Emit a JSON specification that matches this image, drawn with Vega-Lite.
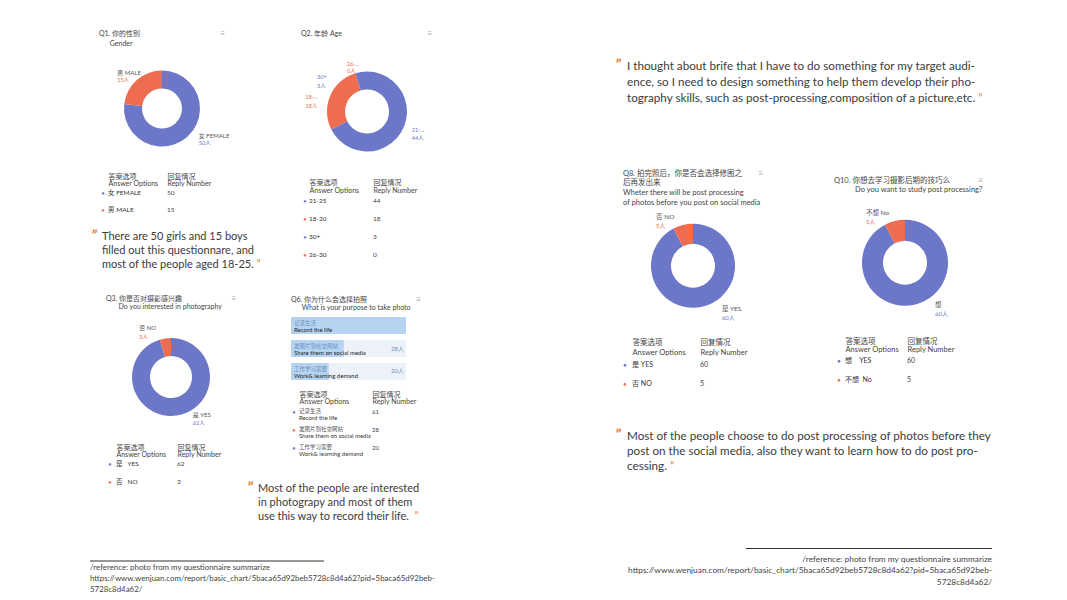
{
"$schema":"https://vega.github.io/schema/vega-lite/v6.json",
"background":"white",
"padding":{"left":89,"top":29.5,"right":5,"bottom":5},
"config":{
 "view":{"stroke":null},
 "font":"Lato, 'Noto Sans CJK SC', sans-serif",
 "title":{"anchor":"start","frame":"group","baseline":"bottom","fontWeight":"normal","color":"#444","fontSize":7,"font":"Lato, 'Noto Sans CJK SC', sans-serif"}
},
"datasets":{
 "q1":[{"order":1,"label":"女 FEMALE","short":"女 FEMALE","n":50,"nl":"50人"},{"order":2,"label":"男 MALE","short":"男 MALE","n":15,"nl":"15人"}],
 "q2":[{"order":1,"label":"21-25","short":"21-...","n":44,"nl":"44人"},{"order":2,"label":"18-20","short":"18-...","n":18,"nl":"18人"},{"order":3,"label":"30+","short":"30+","n":3,"nl":"3人"},{"order":4,"label":"26-30","short":"26-...","n":0,"nl":"0人"}],
 "q3":[{"order":1,"label":"是\u00a0\u00a0\u00a0YES","short":"是 YES","n":62,"nl":"62人"},{"order":2,"label":"否\u00a0\u00a0\u00a0NO","short":"否 NO","n":3,"nl":"3人"}],
 "q6":[{"order":1,"cn":"记录生活","en":"Record the life","n":61,"nl":"61人"},{"order":2,"cn":"发图片到社交网站","en":"Share them on social media","n":28,"nl":"28人"},{"order":3,"cn":"工作学习需要","en":"Work& learning demand","n":20,"nl":"20人"}],
 "q8":[{"order":1,"label":"是 YES","short":"是 YES","n":60,"nl":"60人"},{"order":2,"label":"否 NO","short":"否 NO","n":5,"nl":"5人"}],
 "q10":[{"order":1,"label":"想\u00a0\u00a0\u00a0\u00a0YES","short":"想","n":60,"nl":"60人"},{"order":2,"label":"不想\u00a0\u00a0No","short":"不想 No","n":5,"nl":"5人"}],
 "t1":[{"line":1,"text":"There are 50 girls and 15 boys"},{"line":2,"text":"filled out this questionnare, and"},{"line":3,"text":"most of the people aged 18-25.\u00a0\u201d"}],
 "t2":[{"line":1,"text":"Most of the people are interested"},{"line":2,"text":"in photograpy and most of them"},{"line":3,"text":"use this way to record their life.\u00a0\u00a0\u201d"}],
 "t3":[{"line":1,"text":"I thought about brife that I have to do something for my target audi-"},{"line":2,"text":"ence, so I need to design something to help them develop their pho-"},{"line":3,"text":"tography skills, such as post-processing,composition of a picture,etc.\u00a0\u201d"}],
 "t4":[{"line":1,"text":"Most of the people choose to do post processing of photos before they"},{"line":2,"text":"post on the social media, also they want to learn how to do post pro-"},{"line":3,"text":"cessing.\u00a0\u201d"}],
 "rl":[{"line":1,"text":"/reference: photo from my questionnaire summarize"},{"line":2,"text":"https://www.wenjuan.com/report/basic_chart/5baca65d92beb5728c8d4a62?pid=5baca65d92beb-"},{"line":3,"text":"5728c8d4a62/"}],
 "rr":[{"line":1,"text":"/reference: photo from my questionnaire summarize"},{"line":2,"text":"https://www.wenjuan.com/report/basic_chart/5baca65d92beb5728c8d4a62?pid=5baca65d92beb-"},{"line":3,"text":"5728c8d4a62/"}]
},
"spacing":179,
"hconcat":[
 {"spacing":14.5,"vconcat":[
  {"spacing":40,"hconcat":[
   {"spacing":4.5,"vconcat":[
    {"spacing":4.5,
     "title":{"text":"≡","anchor":"end","frame":"bounds","fontSize":8,"color":"#aaaaaa","offset":0,"dy":8,"dx":-9},
     "vconcat":[
     {"width":144,"height":118,
      "title":{"text":["Q1. 你的性别","\u200b\u00a0\u00a0\u00a0\u00a0\u00a0\u00a0Gender"],"offset":2.5,"dx":9,"lineHeight":10},
      "data":{"name":"q1"},
      "encoding":{"theta":{"field":"n","type":"quantitative","stack":true},"order":{"field":"order","type":"quantitative"},
        "color":{"field":"order","type":"nominal","scale":{"domain":[1,2],"range":["#6d77c7","#ee6c4f"]},"legend":null}},
      "layer":[
       {"mark":{"type":"arc","innerRadius":20,"outerRadius":38}},
       {"mark":{"type":"text","radius":54,"align":"left","fontSize":6,"dx":{"expr":"datum.order == 1 ? 1 : -9"},"dy":{"expr":"datum.order == 1 ? -13.4 : 5.4"}},"encoding":{"text":{"field":"short"},"color":{"value":"#555"}}},
       {"mark":{"type":"text","radius":54,"align":"left","fontSize":5.5,"dx":{"expr":"datum.order == 1 ? 1 : -9"},"dy":{"expr":"datum.order == 1 ? -6.4 : 12.4"}},"encoding":{"text":{"field":"nl"}}}
      ]},
     {"width":95,"height":34,"data":{"name":"q1"},
      "encoding":{"y":{"field":"order","type":"ordinal","axis":null}},
      "layer":[
       {"mark":{"type":"text","text":"●","dx":-5,"fontSize":5},
        "encoding":{"x":{"datum":"label","type":"nominal","scale":{"type":"point","domain":["label","count"],"padding":0.305},
          "axis":{"orient":"top","title":null,"domain":false,"ticks":false,"tickSize":0,"grid":false,"labelAngle":0,"labelAlign":"left","labelBaseline":"bottom","labelFontSize":7,"labelColor":"#444","labelLineHeight":7,"labelPadding":5,"labelOverlap":false,"labelBound":false,"labelExpr":"datum.value == 'label' ? ['答案选项', 'Answer Options'] : ['回复情况', 'Reply Number']"}},
         "color":{"field":"order","type":"nominal","scale":{"domain":[1,2],"range":["#6d77c7","#ee6c4f"]},"legend":null}}},
       {"mark":{"type":"text","align":"left","fontSize":6.5,"color":"#333"},"encoding":{"x":{"datum":"label","type":"nominal"},"text":{"field":"label"}}},
       {"mark":{"type":"text","align":"left","fontSize":6.5,"color":"#444"},"encoding":{"x":{"datum":"count","type":"nominal"},"text":{"field":"n"}}}
      ]}
    ]},
    {"width":150,"height":56,"data":{"name":"t1"},
     "encoding":{"y":{"field":"line","type":"ordinal","axis":null,"scale":{"type":"point","padding":1}},
       "x":{"datum":0,"type":"quantitative","scale":{"domain":[0,1],"nice":false,"zero":false},"axis":null}},
     "layer":[
      {"transform":[{"filter":"datum.line == 1"}],"mark":{"type":"text","text":"\u201d","align":"left","dx":1,"dy":-1,"fontSize":16,"fontWeight":"bold","fontStyle":"italic","color":"#e5833b"}},
      {"transform":[{"filter":"datum.line == 3"}],"mark":{"type":"text","align":"left","dx":12,"fontSize":11,
        "color":{"gradient":"linear","stops":[{"offset":0,"color":"#3c3c3c"},{"offset":0.965,"color":"#3c3c3c"},{"offset":0.966,"color":"#e5833b"},{"offset":1,"color":"#e5833b"}]}},"encoding":{"text":{"field":"text"}}},
      {"transform":[{"filter":"datum.line != 3"}],"mark":{"type":"text","align":"left","dx":12,"fontSize":11,"color":"#3c3c3c"},"encoding":{"text":{"field":"text"}}}
     ]}
   ]},
   {"spacing":4.5,
    "title":{"text":"≡","anchor":"end","frame":"bounds","fontSize":8,"color":"#aaaaaa","offset":0,"dy":8,"dx":-1},
    "vconcat":[
    {"width":132,"height":124,
     "title":{"text":"Q2. 年龄 Age","offset":12.5},
     "data":{"name":"q2"},
     "encoding":{"theta":{"field":"n","type":"quantitative","stack":true},"order":{"field":"order","type":"quantitative"},
       "color":{"field":"order","type":"nominal","scale":{"domain":[1,2,3,4],"range":["#6d77c7","#ee6c4f","#f5b963","#8ccd63"]},"legend":null}},
     "layer":[
      {"mark":{"type":"arc","innerRadius":22,"outerRadius":40}},
      {"mark":{"type":"text","radius":55,"align":"left","fontSize":5.5,"dx":{"expr":"[-2,-11,-42,-20][datum.order-1]"},"dy":{"expr":"[-11,7,20,7][datum.order-1]"}},"encoding":{"text":{"field":"short"}}},
      {"mark":{"type":"text","radius":55,"align":"left","fontSize":5.5,"dx":{"expr":"[-2,-11,-42,-20][datum.order-1]"},"dy":{"expr":"[-3,16,29,14][datum.order-1]"}},"encoding":{"text":{"field":"nl"}}}
     ]},
    {"width":80,"height":72,"data":{"name":"q2"},
     "encoding":{"y":{"field":"order","type":"ordinal","axis":null}},
     "layer":[
      {"mark":{"type":"text","text":"●","dx":-4,"fontSize":5},
       "encoding":{"x":{"datum":"label","type":"nominal","scale":{"type":"point","domain":["label","count"],"padding":0.125},
         "axis":{"orient":"top","title":null,"domain":false,"ticks":false,"tickSize":0,"grid":false,"labelAngle":0,"labelAlign":"left","labelBaseline":"bottom","labelFontSize":7,"labelColor":"#444","labelLineHeight":8,"labelPadding":6.5,"labelOverlap":false,"labelBound":false,"labelExpr":"datum.value == 'label' ? ['答案选项', 'Answer Options'] : ['回复情况', 'Reply Number']"}},
        "color":{"field":"order","type":"nominal","scale":{"domain":[1,2,3,4],"range":["#6d77c7","#ee6c4f","#f5b963","#8ccd63"]},"legend":null}}},
      {"mark":{"type":"text","align":"left","fontSize":6.5,"color":"#333"},"encoding":{"x":{"datum":"label","type":"nominal"},"text":{"field":"label"}}},
      {"mark":{"type":"text","align":"left","fontSize":6.5,"color":"#444"},"encoding":{"x":{"datum":"count","type":"nominal"},"text":{"field":"n"}}}
     ]}
   ]}
  ]},
  {"spacing":20.5,"vconcat":[
   {"spacing":-5,"hconcat":[
    {"spacing":0.5,
     "title":{"text":"≡","anchor":"end","frame":"bounds","fontSize":8,"color":"#aaaaaa","offset":0,"dy":8,"dx":-16},
     "vconcat":[
     {"width":162,"height":130,
      "title":{"text":["Q3. 你是否对摄影感兴趣","\u200b\u00a0\u00a0\u00a0\u00a0\u00a0\u00a0\u00a0Do you interested in photography"],"offset":2.5,"dx":16,"lineHeight":8},
      "data":{"name":"q3"},
      "encoding":{"theta":{"field":"n","type":"quantitative","stack":true},"order":{"field":"order","type":"quantitative"},
        "color":{"field":"order","type":"nominal","scale":{"domain":[1,2],"range":["#6d77c7","#ee6c4f"]},"legend":null}},
      "layer":[
       {"mark":{"type":"arc","innerRadius":21,"outerRadius":39}},
       {"mark":{"type":"text","radius":54,"align":"left","fontSize":6,"dx":{"expr":"datum.order == 1 ? 14 : -24"},"dy":{"expr":"datum.order == 1 ? -15.4 : 4.4"}},"encoding":{"text":{"field":"short"},"color":{"value":"#555"}}},
       {"mark":{"type":"text","radius":54,"align":"left","fontSize":5.5,"dx":{"expr":"datum.order == 1 ? 14 : -24"},"dy":{"expr":"datum.order == 1 ? -7.4 : 13.4"}},"encoding":{"text":{"field":"nl"}}}
      ]},
     {"width":113,"height":36,"data":{"name":"q3"},
      "encoding":{"y":{"field":"order","type":"ordinal","axis":null}},
      "layer":[
       {"mark":{"type":"text","text":"●","dx":-6,"fontSize":5},
        "encoding":{"x":{"datum":"label","type":"nominal","scale":{"type":"point","domain":["label","count"],"padding":0.426},
          "axis":{"orient":"top","title":null,"domain":false,"ticks":false,"tickSize":0,"grid":false,"labelAngle":0,"labelAlign":"left","labelBaseline":"bottom","labelFontSize":7,"labelColor":"#444","labelLineHeight":7,"labelPadding":4.5,"labelOverlap":false,"labelBound":false,"labelExpr":"datum.value == 'label' ? ['答案选项', 'Answer Options'] : ['回复情况', 'Reply Number']"}},
         "color":{"field":"order","type":"nominal","scale":{"domain":[1,2],"range":["#6d77c7","#ee6c4f"]},"legend":null}}},
       {"mark":{"type":"text","align":"left","fontSize":6.5,"color":"#333"},"encoding":{"x":{"datum":"label","type":"nominal"},"text":{"field":"label"}}},
       {"mark":{"type":"text","align":"left","fontSize":6.5,"color":"#444"},"encoding":{"x":{"datum":"count","type":"nominal"},"text":{"field":"n"}}}
      ]}
    ]},
    {"spacing":15,"vconcat":[
     {"spacing":4.5,
      "title":{"text":"≡","anchor":"end","frame":"bounds","fontSize":8,"color":"#aaaaaa","offset":0,"dy":8,"dx":5},
      "vconcat":[
      {"width":115,"height":73,
       "title":{"text":["Q6. 你为什么会选择拍照","\u200b\u00a0\u00a0\u00a0\u00a0\u00a0\u00a0What is your purpose to take photo"],"offset":1.5,"lineHeight":8},
       "data":{"name":"q6"},
       "encoding":{"y":{"field":"order","type":"ordinal","axis":null,"scale":{"paddingInner":0.26,"paddingOuter":0.217}}},
       "layer":[
        {"mark":{"type":"bar","color":"#edf2f8"},"encoding":{"x":{"datum":61,"type":"quantitative","scale":{"domain":[0,61],"nice":false,"zero":true},"axis":null}}},
        {"mark":{"type":"bar","color":"#b5d4f1"},"encoding":{"x":{"field":"n","type":"quantitative"}}},
        {"mark":{"type":"text","align":"left","dx":3,"dy":-2.5,"fontSize":5.5,"color":"#6f8fbf"},"encoding":{"x":{"datum":0,"type":"quantitative"},"text":{"field":"cn"}}},
        {"mark":{"type":"text","align":"left","dx":3,"dy":4.5,"fontSize":6,"color":"#222"},"encoding":{"x":{"datum":0,"type":"quantitative"},"text":{"field":"en"}}},
        {"transform":[{"filter":"datum.order > 1"}],"mark":{"type":"text","align":"right","dx":-2,"fontSize":6,"color":"#6f8fbf"},"encoding":{"x":{"datum":61,"type":"quantitative"},"text":{"field":"nl"}}}
       ]},
      {"width":89,"height":54,"data":{"name":"q6"},
       "encoding":{"y":{"field":"order","type":"ordinal","axis":null}},
       "layer":[
        {"mark":{"type":"text","text":"●","dx":-5,"dy":-3,"fontSize":5},
         "encoding":{"x":{"datum":"label","type":"nominal","scale":{"type":"point","domain":["label","count"],"padding":0.1096},
           "axis":{"orient":"top","title":null,"domain":false,"ticks":false,"tickSize":0,"grid":false,"labelAngle":0,"labelAlign":"left","labelBaseline":"bottom","labelFontSize":7,"labelColor":"#444","labelLineHeight":7,"labelPadding":8.5,"labelOverlap":false,"labelBound":false,"labelExpr":"datum.value == 'label' ? ['答案选项', 'Answer Options'] : ['回复情况', 'Reply Number']"}},
          "color":{"field":"order","type":"nominal","scale":{"domain":[1,2,3],"range":["#6d77c7","#ee6c4f","#f5b963"]},"legend":null}}},
        {"mark":{"type":"text","align":"left","dy":-4,"fontSize":5.5,"color":"#555"},"encoding":{"x":{"datum":"label","type":"nominal"},"text":{"field":"cn"}}},
        {"mark":{"type":"text","align":"left","dy":3.5,"fontSize":6,"color":"#333"},"encoding":{"x":{"datum":"label","type":"nominal"},"text":{"field":"en"}}},
        {"mark":{"type":"text","align":"left","dy":-3,"fontSize":6,"color":"#444"},"encoding":{"x":{"datum":"count","type":"nominal"},"text":{"field":"n"}}}
       ]}
     ]},
     {"width":130,"height":56,"data":{"name":"t2"},
      "encoding":{"y":{"field":"line","type":"ordinal","axis":null,"scale":{"type":"point","padding":1}},
        "x":{"datum":0,"type":"quantitative","scale":{"domain":[0,1],"nice":false,"zero":false},"axis":null}},
      "layer":[
       {"transform":[{"filter":"datum.line == 1"}],"mark":{"type":"text","text":"\u201d","align":"left","dx":-44,"dy":-1,"fontSize":16,"fontWeight":"bold","fontStyle":"italic","color":"#e5833b"}},
       {"transform":[{"filter":"datum.line == 3"}],"mark":{"type":"text","align":"left","dx":-33,"fontSize":11,
         "color":{"gradient":"linear","stops":[{"offset":0,"color":"#3c3c3c"},{"offset":0.96,"color":"#3c3c3c"},{"offset":0.961,"color":"#e5833b"},{"offset":1,"color":"#e5833b"}]}},"encoding":{"text":{"field":"text"}}},
       {"transform":[{"filter":"datum.line != 3"}],"mark":{"type":"text","align":"left","dx":-33,"fontSize":11,"color":"#3c3c3c"},"encoding":{"text":{"field":"text"}}}
      ]}
    ]}
   ]},
   {"width":234,"height":44,"data":{"name":"rl"},
    "layer":[
     {"transform":[{"filter":"datum.line == 1"}],"mark":{"type":"rule","color":"#333","strokeWidth":1.2,"yOffset":4},
      "encoding":{"x":{"datum":0,"type":"quantitative","scale":{"domain":[0,1],"nice":false,"zero":false},"axis":null},"x2":{"datum":1},
        "y":{"datum":0,"type":"ordinal","scale":{"type":"point","domain":[0,1,2,3],"padding":0.5},"axis":null}}},
     {"mark":{"type":"text","align":"left","fontSize":7.9,"color":"#444"},
      "encoding":{"x":{"datum":0,"type":"quantitative"},"y":{"field":"line","type":"ordinal"},"text":{"field":"text"}}}
    ]}
  ]}
 ]},
 {"spacing":55.25,"vconcat":[
  {"width":370,"height":65,"data":{"name":"t3"},
   "encoding":{"y":{"field":"line","type":"ordinal","axis":null,"scale":{"type":"point","padding":1.241}},
     "x":{"datum":0,"type":"quantitative","scale":{"domain":[0,1],"nice":false,"zero":false},"axis":null}},
   "layer":[
    {"transform":[{"filter":"datum.line == 1"}],"mark":{"type":"text","text":"\u201d","align":"left","dx":1,"dy":-1,"fontSize":16,"fontWeight":"bold","fontStyle":"italic","color":"#e5833b"}},
    {"transform":[{"filter":"datum.line == 3"}],"mark":{"type":"text","align":"left","dx":13,"fontSize":11.7,
      "color":{"gradient":"linear","stops":[{"offset":0,"color":"#3c3c3c"},{"offset":0.983,"color":"#3c3c3c"},{"offset":0.984,"color":"#e5833b"},{"offset":1,"color":"#e5833b"}]}},"encoding":{"text":{"field":"text"}}},
    {"transform":[{"filter":"datum.line != 3"}],"mark":{"type":"text","align":"left","dx":13,"fontSize":11.7,"color":"#3c3c3c"},"encoding":{"text":{"field":"text"}}}
   ]},
  {"spacing":25.75,"vconcat":[
   {"spacing":62,"hconcat":[
    {"spacing":14.3,
     "title":{"text":"≡","anchor":"end","frame":"bounds","fontSize":8,"color":"#aaaaaa","offset":0,"dy":8,"dx":-9},
     "vconcat":[
     {"width":158,"height":116,
      "title":{"text":["Q8. 拍完照后，你是否会选择修图之","后再发出来","Wheter there will be post processing","of photos before you post on social media"],"offset":1.35,"dx":9,"lineHeight":9.7,"fontSize":7.5},
      "data":{"name":"q8"},
      "encoding":{"theta":{"field":"n","type":"quantitative","stack":true},"order":{"field":"order","type":"quantitative"},
        "color":{"field":"order","type":"nominal","scale":{"domain":[1,2],"range":["#6d77c7","#ee6c4f"]},"legend":null}},
      "layer":[
       {"mark":{"type":"arc","innerRadius":22,"outerRadius":42}},
       {"mark":{"type":"text","radius":58,"align":"left","fontSize":6.5,"dx":{"expr":"datum.order == 1 ? 15 : -23"},"dy":{"expr":"datum.order == 1 ? -13.3 : 7.3"}},"encoding":{"text":{"field":"short"},"color":{"value":"#555"}}},
       {"mark":{"type":"text","radius":58,"align":"left","fontSize":6,"dx":{"expr":"datum.order == 1 ? 15 : -23"},"dy":{"expr":"datum.order == 1 ? -4.3 : 16.3"}},"encoding":{"text":{"field":"nl"}}}
      ]},
     {"width":104,"height":39,"data":{"name":"q8"},
      "encoding":{"y":{"field":"order","type":"ordinal","axis":null}},
      "layer":[
       {"mark":{"type":"text","text":"●","dx":-7,"fontSize":5.5},
        "encoding":{"x":{"datum":"label","type":"nominal","scale":{"type":"point","domain":["label","count"],"padding":0.2647},
          "axis":{"orient":"top","title":null,"domain":false,"ticks":false,"tickSize":0,"grid":false,"labelAngle":0,"labelAlign":"left","labelBaseline":"bottom","labelFontSize":7.5,"labelColor":"#444","labelLineHeight":10,"labelPadding":9,"labelOverlap":false,"labelBound":false,"labelExpr":"datum.value == 'label' ? ['答案选项', 'Answer Options'] : ['回复情况', 'Reply Number']"}},
         "color":{"field":"order","type":"nominal","scale":{"domain":[1,2],"range":["#6d77c7","#ee6c4f"]},"legend":null}}},
       {"mark":{"type":"text","align":"left","fontSize":7,"color":"#333"},"encoding":{"x":{"datum":"label","type":"nominal"},"text":{"field":"label"}}},
       {"mark":{"type":"text","align":"left","fontSize":7,"color":"#444"},"encoding":{"x":{"datum":"count","type":"nominal"},"text":{"field":"n"}}}
      ]}
    ]},
    {"spacing":19.3,
     "title":{"text":"≡","anchor":"end","frame":"bounds","fontSize":8,"color":"#aaaaaa","offset":0,"dy":8,"dx":0},
     "vconcat":[
     {"width":142,"height":110,
      "title":{"text":["Q10. 你想去学习摄影后期的技巧么","\u200b\u00a0\u00a0\u00a0\u00a0\u00a0\u00a0\u00a0\u00a0\u00a0\u00a0\u00a0Do you want to study post processing?"],"offset":14.25,"lineHeight":9,"fontSize":7.5},
      "data":{"name":"q10"},
      "encoding":{"theta":{"field":"n","type":"quantitative","stack":true},"order":{"field":"order","type":"quantitative"},
        "color":{"field":"order","type":"nominal","scale":{"domain":[1,2],"range":["#6d77c7","#ee6c4f"]},"legend":null}},
      "layer":[
       {"mark":{"type":"arc","innerRadius":22,"outerRadius":43}},
       {"mark":{"type":"text","radius":59,"align":"left","fontSize":6.5,"dx":{"expr":"datum.order == 1 ? 16 : -25"},"dy":{"expr":"datum.order == 1 ? -15.3 : 7.3"}},"encoding":{"text":{"field":"short"},"color":{"value":"#555"}}},
       {"mark":{"type":"text","radius":59,"align":"left","fontSize":6,"dx":{"expr":"datum.order == 1 ? 16 : -25"},"dy":{"expr":"datum.order == 1 ? -6.3 : 16.3"}},"encoding":{"text":{"field":"nl"}}}
      ]},
     {"width":84,"height":38,"data":{"name":"q10"},
      "encoding":{"y":{"field":"order","type":"ordinal","axis":null}},
      "layer":[
       {"mark":{"type":"text","text":"●","dx":-6,"fontSize":5.5},
        "encoding":{"x":{"datum":"label","type":"nominal","scale":{"type":"point","domain":["label","count"],"padding":0.1774},
          "axis":{"orient":"top","title":null,"domain":false,"ticks":false,"tickSize":0,"grid":false,"labelAngle":0,"labelAlign":"left","labelBaseline":"bottom","labelFontSize":7.5,"labelColor":"#444","labelLineHeight":8,"labelPadding":6,"labelOverlap":false,"labelBound":false,"labelExpr":"datum.value == 'label' ? ['答案选项', 'Answer Options'] : ['回复情况', 'Reply Number']"}},
         "color":{"field":"order","type":"nominal","scale":{"domain":[1,2],"range":["#6d77c7","#ee6c4f"]},"legend":null}}},
       {"mark":{"type":"text","align":"left","fontSize":7,"color":"#333"},"encoding":{"x":{"datum":"label","type":"nominal"},"text":{"field":"label"}}},
       {"mark":{"type":"text","align":"left","fontSize":7,"color":"#444"},"encoding":{"x":{"datum":"count","type":"nominal"},"text":{"field":"n"}}}
      ]}
    ]}
   ]},
   {"spacing":61.75,"vconcat":[
    {"width":370,"height":60,"data":{"name":"t4"},
     "encoding":{"y":{"field":"line","type":"ordinal","axis":null,"scale":{"type":"point","padding":1}},
       "x":{"datum":0,"type":"quantitative","scale":{"domain":[0,1],"nice":false,"zero":false},"axis":null}},
     "layer":[
      {"transform":[{"filter":"datum.line == 1"}],"mark":{"type":"text","text":"\u201d","align":"left","dx":1,"dy":-1,"fontSize":16,"fontWeight":"bold","fontStyle":"italic","color":"#e5833b"}},
      {"transform":[{"filter":"datum.line == 3"}],"mark":{"type":"text","align":"left","dx":13,"fontSize":11.7,
        "color":{"gradient":"linear","stops":[{"offset":0,"color":"#3c3c3c"},{"offset":0.875,"color":"#3c3c3c"},{"offset":0.876,"color":"#e5833b"},{"offset":1,"color":"#e5833b"}]}},"encoding":{"text":{"field":"text"}}},
      {"transform":[{"filter":"datum.line != 3"}],"mark":{"type":"text","align":"left","dx":13,"fontSize":11.7,"color":"#3c3c3c"},"encoding":{"text":{"field":"text"}}}
     ]},
    {"width":378,"height":46,"data":{"name":"rr"},
     "layer":[
      {"transform":[{"filter":"datum.line == 1"}],"mark":{"type":"rule","color":"#333","strokeWidth":1.2,"yOffset":0.5},
       "encoding":{"x":{"datum":0.3484,"type":"quantitative","scale":{"domain":[0,1],"nice":false,"zero":false},"axis":null},"x2":{"datum":1},
         "y":{"datum":0,"type":"ordinal","scale":{"type":"point","domain":[0,1,2,3],"padding":0.5},"axis":null}}},
      {"mark":{"type":"text","align":"right","fontSize":8.33,"color":"#444"},
       "encoding":{"x":{"datum":1,"type":"quantitative"},"y":{"field":"line","type":"ordinal"},"text":{"field":"text"}}}
     ]}
   ]}
  ]}
 ]}
]
}
